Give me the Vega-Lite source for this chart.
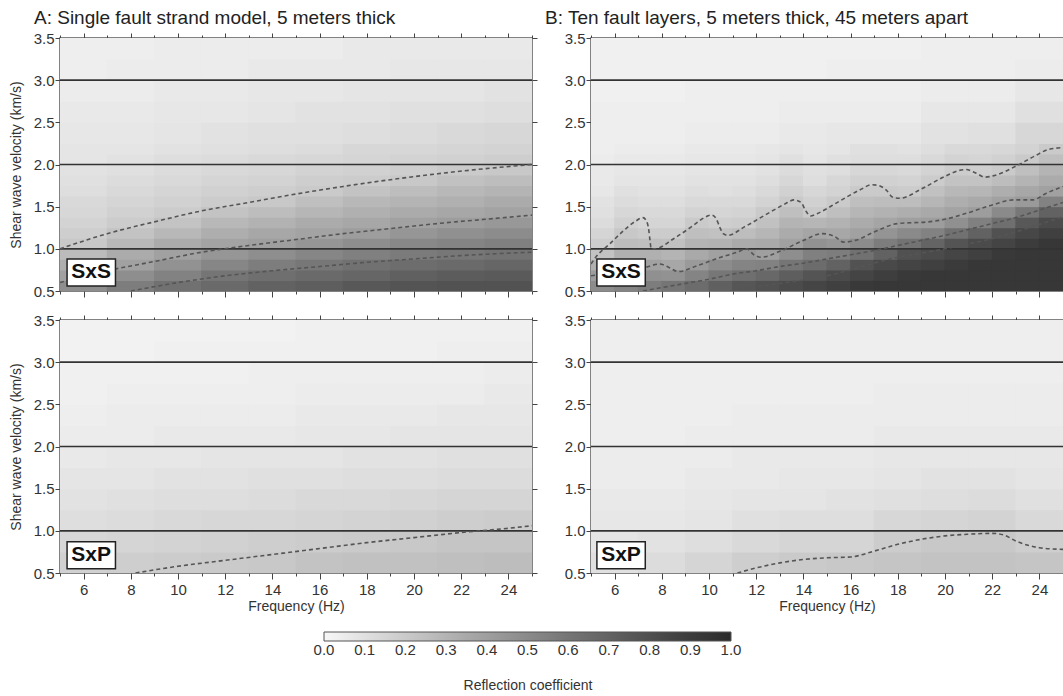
{
"$schema":"https://vega.github.io/schema/vega-lite/v6.json",
"autosize":{"type":"pad"},
"padding":{"left":8,"top":8,"right":0,"bottom":0},
"background":"white",
"config":{
 "font":"Liberation Sans",
 "view":{"stroke":"#5a5a5a","strokeWidth":1.5},
 "axis":{"grid":false,"domain":false,"labelFont":"Liberation Sans","labelFontSize":15,"labelColor":"#333","tickColor":"#444","tickWidth":1,"titleFont":"Liberation Sans","titleFontSize":14,"titleFontWeight":"normal","titleColor":"#333"},
 "title":{"font":"Liberation Sans","fontSize":19,"fontWeight":"normal","color":"#222","anchor":"start","frame":"group"},
 "legend":{"labelFont":"Liberation Sans","titleFont":"Liberation Sans"}
},
"datasets":{
"aS":[
{"f":6,"v":0.5625,"r":0.48},{"f":6,"v":0.6875,"r":0.39},{"f":6,"v":0.8125,"r":0.33},{"f":6,"v":0.9375,"r":0.27},{"f":6,"v":1.0625,"r":0.21},{"f":6,"v":1.1875,"r":0.18},{"f":6,"v":1.3125,"r":0.16},{"f":6,"v":1.4375,"r":0.14},{"f":6,"v":1.5625,"r":0.13},{"f":6,"v":1.6875,"r":0.11},{"f":6,"v":1.8125,"r":0.10},{"f":6,"v":1.9375,"r":0.09},{"f":6,"v":2.0625,"r":0.08},{"f":6,"v":2.1875,"r":0.08},
{"f":8,"v":0.5625,"r":0.56},{"f":8,"v":0.6875,"r":0.48},{"f":8,"v":0.8125,"r":0.39},{"f":8,"v":0.9375,"r":0.34},{"f":8,"v":1.0625,"r":0.28},{"f":8,"v":1.1875,"r":0.23},{"f":8,"v":1.3125,"r":0.19},{"f":8,"v":1.4375,"r":0.17},{"f":8,"v":1.5625,"r":0.15},{"f":8,"v":1.6875,"r":0.13},{"f":8,"v":1.8125,"r":0.12},{"f":8,"v":1.9375,"r":0.10},{"f":8,"v":2.0625,"r":0.09},{"f":8,"v":2.1875,"r":0.08},
{"f":10,"v":0.5625,"r":0.62},{"f":10,"v":0.6875,"r":0.54},{"f":10,"v":0.8125,"r":0.46},{"f":10,"v":0.9375,"r":0.39},{"f":10,"v":1.0625,"r":0.34},{"f":10,"v":1.1875,"r":0.28},{"f":10,"v":1.3125,"r":0.23},{"f":10,"v":1.4375,"r":0.19},{"f":10,"v":1.5625,"r":0.17},{"f":10,"v":1.6875,"r":0.15},{"f":10,"v":1.8125,"r":0.13},{"f":10,"v":1.9375,"r":0.12},{"f":10,"v":2.0625,"r":0.11},{"f":10,"v":2.1875,"r":0.09},
{"f":12,"v":0.5625,"r":0.66},{"f":12,"v":0.6875,"r":0.60},{"f":12,"v":0.8125,"r":0.52},{"f":12,"v":0.9375,"r":0.44},{"f":12,"v":1.0625,"r":0.38},{"f":12,"v":1.1875,"r":0.33},{"f":12,"v":1.3125,"r":0.28},{"f":12,"v":1.4375,"r":0.23},{"f":12,"v":1.5625,"r":0.19},{"f":12,"v":1.6875,"r":0.17},{"f":12,"v":1.8125,"r":0.15},{"f":12,"v":1.9375,"r":0.13},{"f":12,"v":2.0625,"r":0.12},{"f":12,"v":2.1875,"r":0.10},
{"f":14,"v":0.5625,"r":0.70},{"f":14,"v":0.6875,"r":0.63},{"f":14,"v":0.8125,"r":0.56},{"f":14,"v":0.9375,"r":0.48},{"f":14,"v":1.0625,"r":0.40},{"f":14,"v":1.1875,"r":0.36},{"f":14,"v":1.3125,"r":0.31},{"f":14,"v":1.4375,"r":0.26},{"f":14,"v":1.5625,"r":0.21},{"f":14,"v":1.6875,"r":0.18},{"f":14,"v":1.8125,"r":0.16},{"f":14,"v":1.9375,"r":0.14},{"f":14,"v":2.0625,"r":0.13},{"f":14,"v":2.1875,"r":0.11},
{"f":16,"v":0.5625,"r":0.72},{"f":16,"v":0.6875,"r":0.66},{"f":16,"v":0.8125,"r":0.59},{"f":16,"v":0.9375,"r":0.52},{"f":16,"v":1.0625,"r":0.44},{"f":16,"v":1.1875,"r":0.38},{"f":16,"v":1.3125,"r":0.34},{"f":16,"v":1.4375,"r":0.29},{"f":16,"v":1.5625,"r":0.25},{"f":16,"v":1.6875,"r":0.20},{"f":16,"v":1.8125,"r":0.18},{"f":16,"v":1.9375,"r":0.16},{"f":16,"v":2.0625,"r":0.14},{"f":16,"v":2.1875,"r":0.12},
{"f":18,"v":0.5625,"r":0.75},{"f":18,"v":0.6875,"r":0.68},{"f":18,"v":0.8125,"r":0.62},{"f":18,"v":0.9375,"r":0.55},{"f":18,"v":1.0625,"r":0.48},{"f":18,"v":1.1875,"r":0.41},{"f":18,"v":1.3125,"r":0.36},{"f":18,"v":1.4375,"r":0.32},{"f":18,"v":1.5625,"r":0.28},{"f":18,"v":1.6875,"r":0.23},{"f":18,"v":1.8125,"r":0.19},{"f":18,"v":1.9375,"r":0.17},{"f":18,"v":2.0625,"r":0.15},{"f":18,"v":2.1875,"r":0.14},
{"f":20,"v":0.5625,"r":0.77},{"f":20,"v":0.6875,"r":0.71},{"f":20,"v":0.8125,"r":0.64},{"f":20,"v":0.9375,"r":0.57},{"f":20,"v":1.0625,"r":0.51},{"f":20,"v":1.1875,"r":0.44},{"f":20,"v":1.3125,"r":0.39},{"f":20,"v":1.4375,"r":0.34},{"f":20,"v":1.5625,"r":0.30},{"f":20,"v":1.6875,"r":0.26},{"f":20,"v":1.8125,"r":0.21},{"f":20,"v":1.9375,"r":0.18},{"f":20,"v":2.0625,"r":0.16},{"f":20,"v":2.1875,"r":0.14},
{"f":22,"v":0.5625,"r":0.78},{"f":22,"v":0.6875,"r":0.73},{"f":22,"v":0.8125,"r":0.66},{"f":22,"v":0.9375,"r":0.59},{"f":22,"v":1.0625,"r":0.53},{"f":22,"v":1.1875,"r":0.47},{"f":22,"v":1.3125,"r":0.41},{"f":22,"v":1.4375,"r":0.36},{"f":22,"v":1.5625,"r":0.32},{"f":22,"v":1.6875,"r":0.28},{"f":22,"v":1.8125,"r":0.24},{"f":22,"v":1.9375,"r":0.20},{"f":22,"v":2.0625,"r":0.17},{"f":22,"v":2.1875,"r":0.15},
{"f":24,"v":0.5625,"r":0.78},{"f":24,"v":0.6875,"r":0.74},{"f":24,"v":0.8125,"r":0.68},{"f":24,"v":0.9375,"r":0.61},{"f":24,"v":1.0625,"r":0.55},{"f":24,"v":1.1875,"r":0.49},{"f":24,"v":1.3125,"r":0.43},{"f":24,"v":1.4375,"r":0.38},{"f":24,"v":1.5625,"r":0.34},{"f":24,"v":1.6875,"r":0.30},{"f":24,"v":1.8125,"r":0.26},{"f":24,"v":1.9375,"r":0.21},{"f":24,"v":2.0625,"r":0.18},{"f":24,"v":2.1875,"r":0.16}
],
"aSu":[
{"f":6,"v":2.375,"r":0.07},{"f":6,"v":2.625,"r":0.06},{"f":6,"v":2.875,"r":0.05},{"f":6,"v":3.125,"r":0.04},{"f":6,"v":3.375,"r":0.04},
{"f":8,"v":2.375,"r":0.07},{"f":8,"v":2.625,"r":0.06},{"f":8,"v":2.875,"r":0.05},{"f":8,"v":3.125,"r":0.05},{"f":8,"v":3.375,"r":0.04},
{"f":10,"v":2.375,"r":0.08},{"f":10,"v":2.625,"r":0.07},{"f":10,"v":2.875,"r":0.06},{"f":10,"v":3.125,"r":0.05},{"f":10,"v":3.375,"r":0.05},
{"f":12,"v":2.375,"r":0.09},{"f":12,"v":2.625,"r":0.07},{"f":12,"v":2.875,"r":0.06},{"f":12,"v":3.125,"r":0.05},{"f":12,"v":3.375,"r":0.05},
{"f":14,"v":2.375,"r":0.10},{"f":14,"v":2.625,"r":0.08},{"f":14,"v":2.875,"r":0.07},{"f":14,"v":3.125,"r":0.06},{"f":14,"v":3.375,"r":0.05},
{"f":16,"v":2.375,"r":0.10},{"f":16,"v":2.625,"r":0.09},{"f":16,"v":2.875,"r":0.07},{"f":16,"v":3.125,"r":0.06},{"f":16,"v":3.375,"r":0.05},
{"f":18,"v":2.375,"r":0.11},{"f":18,"v":2.625,"r":0.09},{"f":18,"v":2.875,"r":0.08},{"f":18,"v":3.125,"r":0.06},{"f":18,"v":3.375,"r":0.06},
{"f":20,"v":2.375,"r":0.12},{"f":20,"v":2.625,"r":0.10},{"f":20,"v":2.875,"r":0.08},{"f":20,"v":3.125,"r":0.07},{"f":20,"v":3.375,"r":0.06},
{"f":22,"v":2.375,"r":0.13},{"f":22,"v":2.625,"r":0.10},{"f":22,"v":2.875,"r":0.08},{"f":22,"v":3.125,"r":0.07},{"f":22,"v":3.375,"r":0.06},
{"f":24,"v":2.375,"r":0.14},{"f":24,"v":2.625,"r":0.11},{"f":24,"v":2.875,"r":0.09},{"f":24,"v":3.125,"r":0.07},{"f":24,"v":3.375,"r":0.06}
],
"aP":[
{"f":6,"v":0.625,"r":0.17},{"f":6,"v":0.875,"r":0.14},{"f":6,"v":1.125,"r":0.11},{"f":6,"v":1.375,"r":0.09},{"f":6,"v":1.625,"r":0.08},{"f":6,"v":1.875,"r":0.06},{"f":6,"v":2.125,"r":0.05},{"f":6,"v":2.375,"r":0.04},{"f":6,"v":2.625,"r":0.03},{"f":6,"v":2.875,"r":0.03},{"f":6,"v":3.125,"r":0.02},{"f":6,"v":3.375,"r":0.02},
{"f":8,"v":0.625,"r":0.18},{"f":8,"v":0.875,"r":0.15},{"f":8,"v":1.125,"r":0.12},{"f":8,"v":1.375,"r":0.10},{"f":8,"v":1.625,"r":0.08},{"f":8,"v":1.875,"r":0.07},{"f":8,"v":2.125,"r":0.05},{"f":8,"v":2.375,"r":0.05},{"f":8,"v":2.625,"r":0.04},{"f":8,"v":2.875,"r":0.03},{"f":8,"v":3.125,"r":0.02},{"f":8,"v":3.375,"r":0.02},
{"f":10,"v":0.625,"r":0.19},{"f":10,"v":0.875,"r":0.16},{"f":10,"v":1.125,"r":0.13},{"f":10,"v":1.375,"r":0.11},{"f":10,"v":1.625,"r":0.09},{"f":10,"v":1.875,"r":0.07},{"f":10,"v":2.125,"r":0.06},{"f":10,"v":2.375,"r":0.05},{"f":10,"v":2.625,"r":0.04},{"f":10,"v":2.875,"r":0.03},{"f":10,"v":3.125,"r":0.03},{"f":10,"v":3.375,"r":0.02},
{"f":12,"v":0.625,"r":0.20},{"f":12,"v":0.875,"r":0.17},{"f":12,"v":1.125,"r":0.14},{"f":12,"v":1.375,"r":0.11},{"f":12,"v":1.625,"r":0.09},{"f":12,"v":1.875,"r":0.08},{"f":12,"v":2.125,"r":0.06},{"f":12,"v":2.375,"r":0.05},{"f":12,"v":2.625,"r":0.04},{"f":12,"v":2.875,"r":0.03},{"f":12,"v":3.125,"r":0.03},{"f":12,"v":3.375,"r":0.02},
{"f":14,"v":0.625,"r":0.21},{"f":14,"v":0.875,"r":0.18},{"f":14,"v":1.125,"r":0.14},{"f":14,"v":1.375,"r":0.12},{"f":14,"v":1.625,"r":0.10},{"f":14,"v":1.875,"r":0.08},{"f":14,"v":2.125,"r":0.06},{"f":14,"v":2.375,"r":0.05},{"f":14,"v":2.625,"r":0.04},{"f":14,"v":2.875,"r":0.04},{"f":14,"v":3.125,"r":0.03},{"f":14,"v":3.375,"r":0.02},
{"f":16,"v":0.625,"r":0.23},{"f":16,"v":0.875,"r":0.19},{"f":16,"v":1.125,"r":0.15},{"f":16,"v":1.375,"r":0.13},{"f":16,"v":1.625,"r":0.10},{"f":16,"v":1.875,"r":0.08},{"f":16,"v":2.125,"r":0.07},{"f":16,"v":2.375,"r":0.06},{"f":16,"v":2.625,"r":0.05},{"f":16,"v":2.875,"r":0.04},{"f":16,"v":3.125,"r":0.03},{"f":16,"v":3.375,"r":0.03},
{"f":18,"v":0.625,"r":0.24},{"f":18,"v":0.875,"r":0.20},{"f":18,"v":1.125,"r":0.16},{"f":18,"v":1.375,"r":0.13},{"f":18,"v":1.625,"r":0.11},{"f":18,"v":1.875,"r":0.09},{"f":18,"v":2.125,"r":0.07},{"f":18,"v":2.375,"r":0.06},{"f":18,"v":2.625,"r":0.05},{"f":18,"v":2.875,"r":0.04},{"f":18,"v":3.125,"r":0.03},{"f":18,"v":3.375,"r":0.03},
{"f":20,"v":0.625,"r":0.24},{"f":20,"v":0.875,"r":0.21},{"f":20,"v":1.125,"r":0.17},{"f":20,"v":1.375,"r":0.14},{"f":20,"v":1.625,"r":0.11},{"f":20,"v":1.875,"r":0.09},{"f":20,"v":2.125,"r":0.08},{"f":20,"v":2.375,"r":0.06},{"f":20,"v":2.625,"r":0.05},{"f":20,"v":2.875,"r":0.04},{"f":20,"v":3.125,"r":0.03},{"f":20,"v":3.375,"r":0.03},
{"f":22,"v":0.625,"r":0.25},{"f":22,"v":0.875,"r":0.22},{"f":22,"v":1.125,"r":0.18},{"f":22,"v":1.375,"r":0.15},{"f":22,"v":1.625,"r":0.12},{"f":22,"v":1.875,"r":0.10},{"f":22,"v":2.125,"r":0.08},{"f":22,"v":2.375,"r":0.07},{"f":22,"v":2.625,"r":0.05},{"f":22,"v":2.875,"r":0.04},{"f":22,"v":3.125,"r":0.04},{"f":22,"v":3.375,"r":0.03},
{"f":24,"v":0.625,"r":0.26},{"f":24,"v":0.875,"r":0.22},{"f":24,"v":1.125,"r":0.19},{"f":24,"v":1.375,"r":0.15},{"f":24,"v":1.625,"r":0.12},{"f":24,"v":1.875,"r":0.10},{"f":24,"v":2.125,"r":0.08},{"f":24,"v":2.375,"r":0.07},{"f":24,"v":2.625,"r":0.06},{"f":24,"v":2.875,"r":0.05},{"f":24,"v":3.125,"r":0.04},{"f":24,"v":3.375,"r":0.03}
],
"bP":[
{"f":6,"v":0.625,"r":0.10},{"f":6,"v":0.875,"r":0.08},{"f":6,"v":1.125,"r":0.07},{"f":6,"v":1.375,"r":0.06},{"f":6,"v":1.625,"r":0.05},{"f":6,"v":1.875,"r":0.05},{"f":6,"v":2.125,"r":0.04},{"f":6,"v":2.375,"r":0.04},{"f":6,"v":2.625,"r":0.04},{"f":6,"v":2.875,"r":0.04},{"f":6,"v":3.125,"r":0.04},{"f":6,"v":3.375,"r":0.04},
{"f":8,"v":0.625,"r":0.12},{"f":8,"v":0.875,"r":0.09},{"f":8,"v":1.125,"r":0.07},{"f":8,"v":1.375,"r":0.06},{"f":8,"v":1.625,"r":0.05},{"f":8,"v":1.875,"r":0.05},{"f":8,"v":2.125,"r":0.04},{"f":8,"v":2.375,"r":0.04},{"f":8,"v":2.625,"r":0.04},{"f":8,"v":2.875,"r":0.04},{"f":8,"v":3.125,"r":0.04},{"f":8,"v":3.375,"r":0.04},
{"f":10,"v":0.625,"r":0.15},{"f":10,"v":0.875,"r":0.11},{"f":10,"v":1.125,"r":0.08},{"f":10,"v":1.375,"r":0.07},{"f":10,"v":1.625,"r":0.06},{"f":10,"v":1.875,"r":0.05},{"f":10,"v":2.125,"r":0.05},{"f":10,"v":2.375,"r":0.04},{"f":10,"v":2.625,"r":0.04},{"f":10,"v":2.875,"r":0.04},{"f":10,"v":3.125,"r":0.04},{"f":10,"v":3.375,"r":0.04},
{"f":12,"v":0.625,"r":0.18},{"f":12,"v":0.875,"r":0.13},{"f":12,"v":1.125,"r":0.10},{"f":12,"v":1.375,"r":0.08},{"f":12,"v":1.625,"r":0.06},{"f":12,"v":1.875,"r":0.06},{"f":12,"v":2.125,"r":0.05},{"f":12,"v":2.375,"r":0.05},{"f":12,"v":2.625,"r":0.04},{"f":12,"v":2.875,"r":0.04},{"f":12,"v":3.125,"r":0.04},{"f":12,"v":3.375,"r":0.04},
{"f":14,"v":0.625,"r":0.20},{"f":14,"v":0.875,"r":0.15},{"f":14,"v":1.125,"r":0.11},{"f":14,"v":1.375,"r":0.08},{"f":14,"v":1.625,"r":0.07},{"f":14,"v":1.875,"r":0.06},{"f":14,"v":2.125,"r":0.05},{"f":14,"v":2.375,"r":0.05},{"f":14,"v":2.625,"r":0.04},{"f":14,"v":2.875,"r":0.04},{"f":14,"v":3.125,"r":0.04},{"f":14,"v":3.375,"r":0.04},
{"f":16,"v":0.625,"r":0.21},{"f":16,"v":0.875,"r":0.15},{"f":16,"v":1.125,"r":0.11},{"f":16,"v":1.375,"r":0.09},{"f":16,"v":1.625,"r":0.07},{"f":16,"v":1.875,"r":0.06},{"f":16,"v":2.125,"r":0.05},{"f":16,"v":2.375,"r":0.05},{"f":16,"v":2.625,"r":0.04},{"f":16,"v":2.875,"r":0.04},{"f":16,"v":3.125,"r":0.04},{"f":16,"v":3.375,"r":0.04},
{"f":18,"v":0.625,"r":0.22},{"f":18,"v":0.875,"r":0.19},{"f":18,"v":1.125,"r":0.14},{"f":18,"v":1.375,"r":0.10},{"f":18,"v":1.625,"r":0.08},{"f":18,"v":1.875,"r":0.07},{"f":18,"v":2.125,"r":0.06},{"f":18,"v":2.375,"r":0.05},{"f":18,"v":2.625,"r":0.05},{"f":18,"v":2.875,"r":0.04},{"f":18,"v":3.125,"r":0.04},{"f":18,"v":3.375,"r":0.04},
{"f":20,"v":0.625,"r":0.23},{"f":20,"v":0.875,"r":0.21},{"f":20,"v":1.125,"r":0.15},{"f":20,"v":1.375,"r":0.11},{"f":20,"v":1.625,"r":0.09},{"f":20,"v":1.875,"r":0.07},{"f":20,"v":2.125,"r":0.06},{"f":20,"v":2.375,"r":0.05},{"f":20,"v":2.625,"r":0.05},{"f":20,"v":2.875,"r":0.04},{"f":20,"v":3.125,"r":0.04},{"f":20,"v":3.375,"r":0.04},
{"f":22,"v":0.625,"r":0.23},{"f":22,"v":0.875,"r":0.21},{"f":22,"v":1.125,"r":0.16},{"f":22,"v":1.375,"r":0.12},{"f":22,"v":1.625,"r":0.09},{"f":22,"v":1.875,"r":0.07},{"f":22,"v":2.125,"r":0.06},{"f":22,"v":2.375,"r":0.05},{"f":22,"v":2.625,"r":0.05},{"f":22,"v":2.875,"r":0.04},{"f":22,"v":3.125,"r":0.04},{"f":22,"v":3.375,"r":0.04},
{"f":24,"v":0.625,"r":0.22},{"f":24,"v":0.875,"r":0.18},{"f":24,"v":1.125,"r":0.13},{"f":24,"v":1.375,"r":0.10},{"f":24,"v":1.625,"r":0.08},{"f":24,"v":1.875,"r":0.07},{"f":24,"v":2.125,"r":0.06},{"f":24,"v":2.375,"r":0.05},{"f":24,"v":2.625,"r":0.05},{"f":24,"v":2.875,"r":0.04},{"f":24,"v":3.125,"r":0.04},{"f":24,"v":3.375,"r":0.04}
],
"bS":[
{"f":5.5,"v":0.5625,"r":0.49},{"f":5.5,"v":0.6875,"r":0.41},{"f":5.5,"v":0.8125,"r":0.32},{"f":5.5,"v":0.9375,"r":0.23},{"f":5.5,"v":1.0625,"r":0.18},{"f":5.5,"v":1.1875,"r":0.15},{"f":5.5,"v":1.3125,"r":0.12},{"f":5.5,"v":1.4375,"r":0.10},{"f":5.5,"v":1.5625,"r":0.09},{"f":5.5,"v":1.6875,"r":0.07},{"f":5.5,"v":1.8125,"r":0.06},{"f":5.5,"v":1.9375,"r":0.06},{"f":5.5,"v":2.0625,"r":0.05},{"f":5.5,"v":2.1875,"r":0.04},
{"f":6.5,"v":0.5625,"r":0.53},{"f":6.5,"v":0.6875,"r":0.44},{"f":6.5,"v":0.8125,"r":0.37},{"f":6.5,"v":0.9375,"r":0.32},{"f":6.5,"v":1.0625,"r":0.26},{"f":6.5,"v":1.1875,"r":0.21},{"f":6.5,"v":1.3125,"r":0.17},{"f":6.5,"v":1.4375,"r":0.14},{"f":6.5,"v":1.5625,"r":0.12},{"f":6.5,"v":1.6875,"r":0.10},{"f":6.5,"v":1.8125,"r":0.08},{"f":6.5,"v":1.9375,"r":0.07},{"f":6.5,"v":2.0625,"r":0.06},{"f":6.5,"v":2.1875,"r":0.05},
{"f":7.5,"v":0.5625,"r":0.56},{"f":7.5,"v":0.6875,"r":0.47},{"f":7.5,"v":0.8125,"r":0.39},{"f":7.5,"v":0.9375,"r":0.32},{"f":7.5,"v":1.0625,"r":0.25},{"f":7.5,"v":1.1875,"r":0.19},{"f":7.5,"v":1.3125,"r":0.15},{"f":7.5,"v":1.4375,"r":0.13},{"f":7.5,"v":1.5625,"r":0.11},{"f":7.5,"v":1.6875,"r":0.09},{"f":7.5,"v":1.8125,"r":0.08},{"f":7.5,"v":1.9375,"r":0.07},{"f":7.5,"v":2.0625,"r":0.06},{"f":7.5,"v":2.1875,"r":0.05},
{"f":8.5,"v":0.5625,"r":0.60},{"f":8.5,"v":0.6875,"r":0.46},{"f":8.5,"v":0.8125,"r":0.36},{"f":8.5,"v":0.9375,"r":0.30},{"f":8.5,"v":1.0625,"r":0.24},{"f":8.5,"v":1.1875,"r":0.19},{"f":8.5,"v":1.3125,"r":0.15},{"f":8.5,"v":1.4375,"r":0.13},{"f":8.5,"v":1.5625,"r":0.11},{"f":8.5,"v":1.6875,"r":0.09},{"f":8.5,"v":1.8125,"r":0.08},{"f":8.5,"v":1.9375,"r":0.07},{"f":8.5,"v":2.0625,"r":0.06},{"f":8.5,"v":2.1875,"r":0.05},
{"f":9.5,"v":0.5625,"r":0.65},{"f":9.5,"v":0.6875,"r":0.53},{"f":9.5,"v":0.8125,"r":0.42},{"f":9.5,"v":0.9375,"r":0.35},{"f":9.5,"v":1.0625,"r":0.30},{"f":9.5,"v":1.1875,"r":0.25},{"f":9.5,"v":1.3125,"r":0.20},{"f":9.5,"v":1.4375,"r":0.16},{"f":9.5,"v":1.5625,"r":0.13},{"f":9.5,"v":1.6875,"r":0.11},{"f":9.5,"v":1.8125,"r":0.09},{"f":9.5,"v":1.9375,"r":0.08},{"f":9.5,"v":2.0625,"r":0.07},{"f":9.5,"v":2.1875,"r":0.06},
{"f":10.5,"v":0.5625,"r":0.71},{"f":10.5,"v":0.6875,"r":0.59},{"f":10.5,"v":0.8125,"r":0.49},{"f":10.5,"v":0.9375,"r":0.39},{"f":10.5,"v":1.0625,"r":0.31},{"f":10.5,"v":1.1875,"r":0.24},{"f":10.5,"v":1.3125,"r":0.18},{"f":10.5,"v":1.4375,"r":0.15},{"f":10.5,"v":1.5625,"r":0.13},{"f":10.5,"v":1.6875,"r":0.10},{"f":10.5,"v":1.8125,"r":0.09},{"f":10.5,"v":1.9375,"r":0.08},{"f":10.5,"v":2.0625,"r":0.07},{"f":10.5,"v":2.1875,"r":0.06},
{"f":11.5,"v":0.5625,"r":0.76},{"f":11.5,"v":0.6875,"r":0.63},{"f":11.5,"v":0.8125,"r":0.53},{"f":11.5,"v":0.9375,"r":0.43},{"f":11.5,"v":1.0625,"r":0.34},{"f":11.5,"v":1.1875,"r":0.26},{"f":11.5,"v":1.3125,"r":0.19},{"f":11.5,"v":1.4375,"r":0.16},{"f":11.5,"v":1.5625,"r":0.13},{"f":11.5,"v":1.6875,"r":0.11},{"f":11.5,"v":1.8125,"r":0.09},{"f":11.5,"v":1.9375,"r":0.08},{"f":11.5,"v":2.0625,"r":0.07},{"f":11.5,"v":2.1875,"r":0.06},
{"f":12.5,"v":0.5625,"r":0.79},{"f":12.5,"v":0.6875,"r":0.67},{"f":12.5,"v":0.8125,"r":0.54},{"f":12.5,"v":0.9375,"r":0.40},{"f":12.5,"v":1.0625,"r":0.35},{"f":12.5,"v":1.1875,"r":0.29},{"f":12.5,"v":1.3125,"r":0.24},{"f":12.5,"v":1.4375,"r":0.20},{"f":12.5,"v":1.5625,"r":0.16},{"f":12.5,"v":1.6875,"r":0.13},{"f":12.5,"v":1.8125,"r":0.11},{"f":12.5,"v":1.9375,"r":0.09},{"f":12.5,"v":2.0625,"r":0.08},{"f":12.5,"v":2.1875,"r":0.07},
{"f":13.5,"v":0.5625,"r":0.82},{"f":13.5,"v":0.6875,"r":0.72},{"f":13.5,"v":0.8125,"r":0.60},{"f":13.5,"v":0.9375,"r":0.48},{"f":13.5,"v":1.0625,"r":0.39},{"f":13.5,"v":1.1875,"r":0.34},{"f":13.5,"v":1.3125,"r":0.30},{"f":13.5,"v":1.4375,"r":0.25},{"f":13.5,"v":1.5625,"r":0.20},{"f":13.5,"v":1.6875,"r":0.17},{"f":13.5,"v":1.8125,"r":0.14},{"f":13.5,"v":1.9375,"r":0.12},{"f":13.5,"v":2.0625,"r":0.10},{"f":13.5,"v":2.1875,"r":0.08},
{"f":14.5,"v":0.5625,"r":0.85},{"f":14.5,"v":0.6875,"r":0.77},{"f":14.5,"v":0.8125,"r":0.65},{"f":14.5,"v":0.9375,"r":0.55},{"f":14.5,"v":1.0625,"r":0.46},{"f":14.5,"v":1.1875,"r":0.37},{"f":14.5,"v":1.3125,"r":0.29},{"f":14.5,"v":1.4375,"r":0.20},{"f":14.5,"v":1.5625,"r":0.17},{"f":14.5,"v":1.6875,"r":0.14},{"f":14.5,"v":1.8125,"r":0.11},{"f":14.5,"v":1.9375,"r":0.10},{"f":14.5,"v":2.0625,"r":0.08},{"f":14.5,"v":2.1875,"r":0.07},
{"f":15.5,"v":0.5625,"r":0.88},{"f":15.5,"v":0.6875,"r":0.82},{"f":15.5,"v":0.8125,"r":0.70},{"f":15.5,"v":0.9375,"r":0.56},{"f":15.5,"v":1.0625,"r":0.44},{"f":15.5,"v":1.1875,"r":0.36},{"f":15.5,"v":1.3125,"r":0.31},{"f":15.5,"v":1.4375,"r":0.25},{"f":15.5,"v":1.5625,"r":0.20},{"f":15.5,"v":1.6875,"r":0.16},{"f":15.5,"v":1.8125,"r":0.14},{"f":15.5,"v":1.9375,"r":0.11},{"f":15.5,"v":2.0625,"r":0.10},{"f":15.5,"v":2.1875,"r":0.08},
{"f":16.5,"v":0.5625,"r":0.92},{"f":16.5,"v":0.6875,"r":0.86},{"f":16.5,"v":0.8125,"r":0.78},{"f":16.5,"v":0.9375,"r":0.62},{"f":16.5,"v":1.0625,"r":0.49},{"f":16.5,"v":1.1875,"r":0.39},{"f":16.5,"v":1.3125,"r":0.34},{"f":16.5,"v":1.4375,"r":0.29},{"f":16.5,"v":1.5625,"r":0.25},{"f":16.5,"v":1.6875,"r":0.20},{"f":16.5,"v":1.8125,"r":0.17},{"f":16.5,"v":1.9375,"r":0.14},{"f":16.5,"v":2.0625,"r":0.11},{"f":16.5,"v":2.1875,"r":0.10},
{"f":17.5,"v":0.5625,"r":0.93},{"f":17.5,"v":0.6875,"r":0.89},{"f":17.5,"v":0.8125,"r":0.83},{"f":17.5,"v":0.9375,"r":0.70},{"f":17.5,"v":1.0625,"r":0.56},{"f":17.5,"v":1.1875,"r":0.45},{"f":17.5,"v":1.3125,"r":0.37},{"f":17.5,"v":1.4375,"r":0.31},{"f":17.5,"v":1.5625,"r":0.26},{"f":17.5,"v":1.6875,"r":0.20},{"f":17.5,"v":1.8125,"r":0.17},{"f":17.5,"v":1.9375,"r":0.14},{"f":17.5,"v":2.0625,"r":0.11},{"f":17.5,"v":2.1875,"r":0.10},
{"f":18.5,"v":0.5625,"r":0.93},{"f":18.5,"v":0.6875,"r":0.92},{"f":18.5,"v":0.8125,"r":0.86},{"f":18.5,"v":0.9375,"r":0.79},{"f":18.5,"v":1.0625,"r":0.61},{"f":18.5,"v":1.1875,"r":0.50},{"f":18.5,"v":1.3125,"r":0.40},{"f":18.5,"v":1.4375,"r":0.33},{"f":18.5,"v":1.5625,"r":0.26},{"f":18.5,"v":1.6875,"r":0.19},{"f":18.5,"v":1.8125,"r":0.16},{"f":18.5,"v":1.9375,"r":0.13},{"f":18.5,"v":2.0625,"r":0.11},{"f":18.5,"v":2.1875,"r":0.09},
{"f":19.5,"v":0.5625,"r":0.93},{"f":19.5,"v":0.6875,"r":0.93},{"f":19.5,"v":0.8125,"r":0.88},{"f":19.5,"v":0.9375,"r":0.82},{"f":19.5,"v":1.0625,"r":0.69},{"f":19.5,"v":1.1875,"r":0.54},{"f":19.5,"v":1.3125,"r":0.41},{"f":19.5,"v":1.4375,"r":0.35},{"f":19.5,"v":1.5625,"r":0.29},{"f":19.5,"v":1.6875,"r":0.24},{"f":19.5,"v":1.8125,"r":0.19},{"f":19.5,"v":1.9375,"r":0.16},{"f":19.5,"v":2.0625,"r":0.13},{"f":19.5,"v":2.1875,"r":0.11},
{"f":20.5,"v":0.5625,"r":0.93},{"f":20.5,"v":0.6875,"r":0.93},{"f":20.5,"v":0.8125,"r":0.91},{"f":20.5,"v":0.9375,"r":0.85},{"f":20.5,"v":1.0625,"r":0.77},{"f":20.5,"v":1.1875,"r":0.62},{"f":20.5,"v":1.3125,"r":0.47},{"f":20.5,"v":1.4375,"r":0.38},{"f":20.5,"v":1.5625,"r":0.33},{"f":20.5,"v":1.6875,"r":0.28},{"f":20.5,"v":1.8125,"r":0.23},{"f":20.5,"v":1.9375,"r":0.19},{"f":20.5,"v":2.0625,"r":0.16},{"f":20.5,"v":2.1875,"r":0.13},
{"f":21.5,"v":0.5625,"r":0.93},{"f":21.5,"v":0.6875,"r":0.93},{"f":21.5,"v":0.8125,"r":0.93},{"f":21.5,"v":0.9375,"r":0.88},{"f":21.5,"v":1.0625,"r":0.82},{"f":21.5,"v":1.1875,"r":0.70},{"f":21.5,"v":1.3125,"r":0.55},{"f":21.5,"v":1.4375,"r":0.41},{"f":21.5,"v":1.5625,"r":0.35},{"f":21.5,"v":1.6875,"r":0.29},{"f":21.5,"v":1.8125,"r":0.23},{"f":21.5,"v":1.9375,"r":0.18},{"f":21.5,"v":2.0625,"r":0.15},{"f":21.5,"v":2.1875,"r":0.13},
{"f":22.5,"v":0.5625,"r":0.93},{"f":22.5,"v":0.6875,"r":0.93},{"f":22.5,"v":0.8125,"r":0.93},{"f":22.5,"v":0.9375,"r":0.92},{"f":22.5,"v":1.0625,"r":0.86},{"f":22.5,"v":1.1875,"r":0.79},{"f":22.5,"v":1.3125,"r":0.63},{"f":22.5,"v":1.4375,"r":0.50},{"f":22.5,"v":1.5625,"r":0.39},{"f":22.5,"v":1.6875,"r":0.33},{"f":22.5,"v":1.8125,"r":0.26},{"f":22.5,"v":1.9375,"r":0.20},{"f":22.5,"v":2.0625,"r":0.17},{"f":22.5,"v":2.1875,"r":0.14},
{"f":23.5,"v":0.5625,"r":0.93},{"f":23.5,"v":0.6875,"r":0.93},{"f":23.5,"v":0.8125,"r":0.93},{"f":23.5,"v":0.9375,"r":0.93},{"f":23.5,"v":1.0625,"r":0.90},{"f":23.5,"v":1.1875,"r":0.84},{"f":23.5,"v":1.3125,"r":0.75},{"f":23.5,"v":1.4375,"r":0.59},{"f":23.5,"v":1.5625,"r":0.42},{"f":23.5,"v":1.6875,"r":0.36},{"f":23.5,"v":1.8125,"r":0.30},{"f":23.5,"v":1.9375,"r":0.25},{"f":23.5,"v":2.0625,"r":0.20},{"f":23.5,"v":2.1875,"r":0.16},
{"f":24.5,"v":0.5625,"r":0.93},{"f":24.5,"v":0.6875,"r":0.93},{"f":24.5,"v":0.8125,"r":0.93},{"f":24.5,"v":0.9375,"r":0.93},{"f":24.5,"v":1.0625,"r":0.93},{"f":24.5,"v":1.1875,"r":0.88},{"f":24.5,"v":1.3125,"r":0.82},{"f":24.5,"v":1.4375,"r":0.70},{"f":24.5,"v":1.5625,"r":0.54},{"f":24.5,"v":1.6875,"r":0.39},{"f":24.5,"v":1.8125,"r":0.34},{"f":24.5,"v":1.9375,"r":0.30},{"f":24.5,"v":2.0625,"r":0.25},{"f":24.5,"v":2.1875,"r":0.20}
],
"bSu":[
{"f":6,"v":2.375,"r":0.04},{"f":6,"v":2.625,"r":0.04},{"f":6,"v":2.875,"r":0.03},{"f":6,"v":3.125,"r":0.03},{"f":6,"v":3.375,"r":0.03},
{"f":8,"v":2.375,"r":0.04},{"f":8,"v":2.625,"r":0.04},{"f":8,"v":2.875,"r":0.03},{"f":8,"v":3.125,"r":0.03},{"f":8,"v":3.375,"r":0.03},
{"f":10,"v":2.375,"r":0.05},{"f":10,"v":2.625,"r":0.04},{"f":10,"v":2.875,"r":0.04},{"f":10,"v":3.125,"r":0.03},{"f":10,"v":3.375,"r":0.03},
{"f":12,"v":2.375,"r":0.05},{"f":12,"v":2.625,"r":0.04},{"f":12,"v":2.875,"r":0.04},{"f":12,"v":3.125,"r":0.03},{"f":12,"v":3.375,"r":0.03},
{"f":14,"v":2.375,"r":0.06},{"f":14,"v":2.625,"r":0.05},{"f":14,"v":2.875,"r":0.04},{"f":14,"v":3.125,"r":0.03},{"f":14,"v":3.375,"r":0.03},
{"f":16,"v":2.375,"r":0.07},{"f":16,"v":2.625,"r":0.05},{"f":16,"v":2.875,"r":0.04},{"f":16,"v":3.125,"r":0.04},{"f":16,"v":3.375,"r":0.03},
{"f":18,"v":2.375,"r":0.07},{"f":18,"v":2.625,"r":0.05},{"f":18,"v":2.875,"r":0.04},{"f":18,"v":3.125,"r":0.04},{"f":18,"v":3.375,"r":0.03},
{"f":20,"v":2.375,"r":0.09},{"f":20,"v":2.625,"r":0.07},{"f":20,"v":2.875,"r":0.05},{"f":20,"v":3.125,"r":0.04},{"f":20,"v":3.375,"r":0.04},
{"f":22,"v":2.375,"r":0.10},{"f":22,"v":2.625,"r":0.07},{"f":22,"v":2.875,"r":0.05},{"f":22,"v":3.125,"r":0.04},{"f":22,"v":3.375,"r":0.04},
{"f":24,"v":2.375,"r":0.14},{"f":24,"v":2.625,"r":0.10},{"f":24,"v":2.875,"r":0.07},{"f":24,"v":3.125,"r":0.05},{"f":24,"v":3.375,"r":0.04}
],
"caS":[
{"c":1,"f":5,"v":1.0},{"c":1,"f":7,"v":1.18},{"c":1,"f":9,"v":1.32},{"c":1,"f":11,"v":1.45},{"c":1,"f":13,"v":1.55},{"c":1,"f":15,"v":1.65},{"c":1,"f":17,"v":1.74},{"c":1,"f":19,"v":1.82},{"c":1,"f":21,"v":1.89},{"c":1,"f":23,"v":1.95},{"c":1,"f":25,"v":2.0},
{"c":2,"f":5,"v":0.6},{"c":2,"f":7,"v":0.74},{"c":2,"f":9,"v":0.85},{"c":2,"f":11,"v":0.96},{"c":2,"f":13,"v":1.04},{"c":2,"f":15,"v":1.11},{"c":2,"f":17,"v":1.18},{"c":2,"f":19,"v":1.24},{"c":2,"f":21,"v":1.3},{"c":2,"f":23,"v":1.35},{"c":2,"f":25,"v":1.4},
{"c":3,"f":8,"v":0.5},{"c":3,"f":10,"v":0.6},{"c":3,"f":12,"v":0.68},{"c":3,"f":14,"v":0.74},{"c":3,"f":16,"v":0.79},{"c":3,"f":18,"v":0.84},{"c":3,"f":20,"v":0.88},{"c":3,"f":22,"v":0.92},{"c":3,"f":25,"v":0.96}
],
"caP":[
{"c":1,"f":8.2,"v":0.5},{"c":1,"f":10,"v":0.58},{"c":1,"f":12,"v":0.65},{"c":1,"f":14,"v":0.72},{"c":1,"f":16,"v":0.79},{"c":1,"f":18,"v":0.86},{"c":1,"f":20,"v":0.92},{"c":1,"f":22,"v":0.98},{"c":1,"f":24,"v":1.03},{"c":1,"f":25,"v":1.06}
],
"cbS":[
{"c":1,"f":5,"v":0.82},{"c":1,"f":5.2,"v":0.9},{"c":1,"f":5.8,"v":1.06},{"c":1,"f":6.4,"v":1.22},{"c":1,"f":6.9,"v":1.33},{"c":1,"f":7.2,"v":1.37},{"c":1,"f":7.35,"v":1.33},{"c":1,"f":7.45,"v":1.22},{"c":1,"f":7.5,"v":1.1},{"c":1,"f":7.55,"v":1.0},{"c":1,"f":7.7,"v":1.0},{"c":1,"f":8.5,"v":1.12},{"c":1,"f":9.3,"v":1.27},{"c":1,"f":9.8,"v":1.37},{"c":1,"f":10.1,"v":1.4},{"c":1,"f":10.3,"v":1.36},{"c":1,"f":10.45,"v":1.26},{"c":1,"f":10.6,"v":1.18},{"c":1,"f":10.8,"v":1.16},{"c":1,"f":11.5,"v":1.26},{"c":1,"f":12.5,"v":1.42},{"c":1,"f":13.2,"v":1.53},{"c":1,"f":13.6,"v":1.58},{"c":1,"f":13.9,"v":1.55},{"c":1,"f":14.1,"v":1.45},{"c":1,"f":14.3,"v":1.39},{"c":1,"f":14.6,"v":1.42},{"c":1,"f":15.5,"v":1.56},{"c":1,"f":16.4,"v":1.7},{"c":1,"f":16.9,"v":1.76},{"c":1,"f":17.2,"v":1.75},{"c":1,"f":17.5,"v":1.7},{"c":1,"f":17.8,"v":1.61},{"c":1,"f":18.1,"v":1.6},{"c":1,"f":19,"v":1.71},{"c":1,"f":20,"v":1.86},{"c":1,"f":20.6,"v":1.93},{"c":1,"f":20.9,"v":1.94},{"c":1,"f":21.3,"v":1.9},{"c":1,"f":21.7,"v":1.85},{"c":1,"f":22.1,"v":1.87},{"c":1,"f":23,"v":1.98},{"c":1,"f":23.8,"v":2.1},{"c":1,"f":24.4,"v":2.18},{"c":1,"f":25,"v":2.2},
{"c":2,"f":5,"v":0.68},{"c":2,"f":5.5,"v":0.7},{"c":2,"f":6.5,"v":0.74},{"c":2,"f":7.3,"v":0.78},{"c":2,"f":7.9,"v":0.82},{"c":2,"f":8.3,"v":0.78},{"c":2,"f":8.7,"v":0.73},{"c":2,"f":9.5,"v":0.8},{"c":2,"f":10.5,"v":0.9},{"c":2,"f":11.2,"v":0.96},{"c":2,"f":11.6,"v":1.0},{"c":2,"f":11.9,"v":0.93},{"c":2,"f":12.2,"v":0.9},{"c":2,"f":13,"v":0.97},{"c":2,"f":14,"v":1.1},{"c":2,"f":14.8,"v":1.18},{"c":2,"f":15.3,"v":1.15},{"c":2,"f":15.7,"v":1.08},{"c":2,"f":16.2,"v":1.1},{"c":2,"f":17,"v":1.2},{"c":2,"f":18,"v":1.3},{"c":2,"f":19.3,"v":1.32},{"c":2,"f":20,"v":1.35},{"c":2,"f":21,"v":1.43},{"c":2,"f":22,"v":1.52},{"c":2,"f":22.9,"v":1.58},{"c":2,"f":23.7,"v":1.58},{"c":2,"f":24.3,"v":1.66},{"c":2,"f":25,"v":1.74},
{"c":3,"f":7.2,"v":0.5},{"c":3,"f":8,"v":0.54},{"c":3,"f":9,"v":0.59},{"c":3,"f":10,"v":0.64},{"c":3,"f":11,"v":0.7},{"c":3,"f":12,"v":0.74},{"c":3,"f":13,"v":0.79},{"c":3,"f":14,"v":0.83},{"c":3,"f":15,"v":0.88},{"c":3,"f":16,"v":0.93},{"c":3,"f":17,"v":0.98},{"c":3,"f":18,"v":1.04},{"c":3,"f":19,"v":1.1},{"c":3,"f":20,"v":1.16},{"c":3,"f":21,"v":1.23},{"c":3,"f":22,"v":1.3},{"c":3,"f":23,"v":1.37},{"c":3,"f":24,"v":1.46},{"c":3,"f":25,"v":1.55},
{"c":4,"f":10.9,"v":0.5},{"c":4,"f":12,"v":0.55},{"c":4,"f":13,"v":0.59},{"c":4,"f":14,"v":0.63},{"c":4,"f":15,"v":0.68},{"c":4,"f":16,"v":0.75},{"c":4,"f":17,"v":0.83},{"c":4,"f":18,"v":0.9},{"c":4,"f":19,"v":0.95},{"c":4,"f":20,"v":1.0},{"c":4,"f":21,"v":1.06},{"c":4,"f":22,"v":1.12},{"c":4,"f":23,"v":1.2},{"c":4,"f":24,"v":1.29},{"c":4,"f":25,"v":1.38}
],
"cbP":[
{"c":1,"f":11.2,"v":0.5},{"c":1,"f":12,"v":0.56},{"c":1,"f":13,"v":0.62},{"c":1,"f":14,"v":0.66},{"c":1,"f":15,"v":0.68},{"c":1,"f":16,"v":0.69},{"c":1,"f":17,"v":0.76},{"c":1,"f":18,"v":0.84},{"c":1,"f":19,"v":0.9},{"c":1,"f":20,"v":0.94},{"c":1,"f":21,"v":0.96},{"c":1,"f":22,"v":0.97},{"c":1,"f":22.5,"v":0.95},{"c":1,"f":23,"v":0.88},{"c":1,"f":24,"v":0.8},{"c":1,"f":25,"v":0.78}
]
},
"columns":2,
"bounds":"flush",
"spacing":{"row":29,"column":59},
"resolve":{"scale":{"color":"shared"},"legend":{"color":"shared"}},
"concat":[
{
 "width":472,"height":253,
 "title":{"text":"A: Single fault strand model, 5 meters thick","dx":-26,"offset":3},
 "layer":[
  {"data":{"name":"aS"},"mark":{"type":"rect","width":48,"height":11.5,"clip":true},
   "encoding":{
    "x":{"field":"f","type":"quantitative","scale":{"domain":[5,25],"nice":false,"zero":false},"axis":{"values":[5,6,7,8,9,10,11,12,13,14,15,16,17,18,19,20,21,22,23,24,25],"labels":false,"title":null,"tickSize":{"condition":{"test":"datum.value % 2 === 0","value":6},"value":3}}},
    "y":{"field":"v","type":"quantitative","scale":{"domain":[0.5,3.5],"nice":false,"zero":false},"axis":{"values":[0.5,1,1.5,2,2.5,3,3.5],"format":".1f","title":"Shear wave velocity (km/s)","tickSize":5,"labelPadding":1,"titlePadding":10}},
    "color":{"field":"r","type":"quantitative","scale":{"domain":[0,1],"range":["#f7f7f7","#2b2b2b"]},"legend":{"orient":"none","legendX":264,"legendY":594,"direction":"horizontal","gradientLength":407,"gradientThickness":9,"values":[0,0.1,0.2,0.3,0.4,0.5,0.6,0.7,0.8,0.9,1],"format":".1f","labelAlign":"center","encode":{"labels":{"update":{"align":{"value":"center"}},"align":{"value":"center"}}},"title":"Reflection coefficient","titleOrient":"bottom","titleAnchor":"middle","titlePadding":21,"labelFontSize":15,"labelColor":"#333","titleFontSize":14,"titleFontWeight":"normal","titleColor":"#333","gradientStrokeColor":"#555","gradientStrokeWidth":1,"padding":0}}}},
  {"data":{"name":"aSu"},"mark":{"type":"rect","width":48,"height":22,"clip":true},
   "encoding":{
    "x":{"field":"f","type":"quantitative","axis":null},
    "y":{"field":"v","type":"quantitative","axis":null},
    "color":{"field":"r","type":"quantitative","scale":{"domain":[0,1],"range":["#f7f7f7","#2b2b2b"]},"legend":{"orient":"none","legendX":264,"legendY":594,"direction":"horizontal","gradientLength":407,"gradientThickness":9,"values":[0,0.1,0.2,0.3,0.4,0.5,0.6,0.7,0.8,0.9,1],"format":".1f","labelAlign":"center","encode":{"labels":{"update":{"align":{"value":"center"}},"align":{"value":"center"}}},"title":"Reflection coefficient","titleOrient":"bottom","titleAnchor":"middle","titlePadding":21,"labelFontSize":15,"labelColor":"#333","titleFontSize":14,"titleFontWeight":"normal","titleColor":"#333","gradientStrokeColor":"#555","gradientStrokeWidth":1,"padding":0}}}},
  {"data":{"values":[{"v":1},{"v":2},{"v":3}]},"mark":{"type":"rule","color":"#333","strokeWidth":1.6},"encoding":{"y":{"field":"v","type":"quantitative","axis":null}}},
  {"data":{"name":"caS"},"mark":{"type":"line","stroke":"#555","strokeDash":[4,3],"strokeWidth":1.6,"clip":true,"interpolate":"monotone"},
   "encoding":{"x":{"field":"f","type":"quantitative","axis":{"orient":"top","values":[5,6,7,8,9,10,11,12,13,14,15,16,17,18,19,20,21,22,23,24,25],"labels":false,"title":null,"tickSize":{"condition":{"test":"datum.value % 2 === 0","value":5},"value":3}}},"y":{"field":"v","type":"quantitative","axis":{"orient":"right","values":[0.5,1,1.5,2,2.5,3,3.5],"labels":false,"title":null,"tickSize":5}},"detail":{"field":"c"}}},
  {"data":{"values":[{"lab":"SxS"}]},"layer":[
   {"mark":{"type":"rect","fill":"white","stroke":"#222","strokeWidth":1.5},"encoding":{"x":{"datum":5.3,"type":"quantitative","axis":null},"x2":{"datum":7.35},"y":{"datum":0.56,"type":"quantitative","axis":null},"y2":{"datum":0.88}}},
   {"mark":{"type":"text","fontSize":21,"fontWeight":"bold","color":"#111","baseline":"middle"},"encoding":{"x":{"datum":6.32,"type":"quantitative","axis":null},"y":{"datum":0.72,"type":"quantitative","axis":null},"text":{"field":"lab"}}}
  ]}
 ],
 "resolve":{"axis":{"x":"independent","y":"independent"}}
},
{
 "width":472,"height":253,
 "title":{"text":"B: Ten fault layers, 5 meters thick, 45 meters apart","dx":-46,"offset":3},
 "layer":[
  {"data":{"name":"bS"},"mark":{"type":"rect","width":24.5,"height":11.5,"clip":true},
   "encoding":{
    "x":{"field":"f","type":"quantitative","scale":{"domain":[5,25],"nice":false,"zero":false},"axis":{"values":[5,6,7,8,9,10,11,12,13,14,15,16,17,18,19,20,21,22,23,24,25],"labels":false,"title":null,"tickSize":{"condition":{"test":"datum.value % 2 === 0","value":6},"value":3}}},
    "y":{"field":"v","type":"quantitative","scale":{"domain":[0.5,3.5],"nice":false,"zero":false},"axis":{"values":[0.5,1,1.5,2,2.5,3,3.5],"format":".1f","title":null,"tickSize":5,"labelPadding":1}},
    "color":{"field":"r","type":"quantitative","scale":{"domain":[0,1],"range":["#f7f7f7","#2b2b2b"]},"legend":{"orient":"none","legendX":264,"legendY":594,"direction":"horizontal","gradientLength":407,"gradientThickness":9,"values":[0,0.1,0.2,0.3,0.4,0.5,0.6,0.7,0.8,0.9,1],"format":".1f","labelAlign":"center","encode":{"labels":{"update":{"align":{"value":"center"}},"align":{"value":"center"}}},"title":"Reflection coefficient","titleOrient":"bottom","titleAnchor":"middle","titlePadding":21,"labelFontSize":15,"labelColor":"#333","titleFontSize":14,"titleFontWeight":"normal","titleColor":"#333","gradientStrokeColor":"#555","gradientStrokeWidth":1,"padding":0}}}},
  {"data":{"name":"bSu"},"mark":{"type":"rect","width":48,"height":22,"clip":true},
   "encoding":{
    "x":{"field":"f","type":"quantitative","axis":null},
    "y":{"field":"v","type":"quantitative","axis":null},
    "color":{"field":"r","type":"quantitative","scale":{"domain":[0,1],"range":["#f7f7f7","#2b2b2b"]},"legend":{"orient":"none","legendX":264,"legendY":594,"direction":"horizontal","gradientLength":407,"gradientThickness":9,"values":[0,0.1,0.2,0.3,0.4,0.5,0.6,0.7,0.8,0.9,1],"format":".1f","labelAlign":"center","encode":{"labels":{"update":{"align":{"value":"center"}},"align":{"value":"center"}}},"title":"Reflection coefficient","titleOrient":"bottom","titleAnchor":"middle","titlePadding":21,"labelFontSize":15,"labelColor":"#333","titleFontSize":14,"titleFontWeight":"normal","titleColor":"#333","gradientStrokeColor":"#555","gradientStrokeWidth":1,"padding":0}}}},
  {"data":{"values":[{"v":1},{"v":2},{"v":3}]},"mark":{"type":"rule","color":"#333","strokeWidth":1.6},"encoding":{"y":{"field":"v","type":"quantitative","axis":null}}},
  {"data":{"name":"cbS"},"mark":{"type":"line","stroke":"#555","strokeDash":[4,3],"strokeWidth":1.6,"clip":true,"interpolate":"monotone"},
   "encoding":{"x":{"field":"f","type":"quantitative","axis":{"orient":"top","values":[5,6,7,8,9,10,11,12,13,14,15,16,17,18,19,20,21,22,23,24,25],"labels":false,"title":null,"tickSize":{"condition":{"test":"datum.value % 2 === 0","value":5},"value":3}}},"y":{"field":"v","type":"quantitative","axis":{"orient":"right","values":[0.5,1,1.5,2,2.5,3,3.5],"labels":false,"title":null,"tickSize":5}},"detail":{"field":"c"}}},
  {"data":{"values":[{"lab":"SxS"}]},"layer":[
   {"mark":{"type":"rect","fill":"white","stroke":"#222","strokeWidth":1.5},"encoding":{"x":{"datum":5.25,"type":"quantitative","axis":null},"x2":{"datum":7.3},"y":{"datum":0.56,"type":"quantitative","axis":null},"y2":{"datum":0.88}}},
   {"mark":{"type":"text","fontSize":21,"fontWeight":"bold","color":"#111","baseline":"middle"},"encoding":{"x":{"datum":6.27,"type":"quantitative","axis":null},"y":{"datum":0.72,"type":"quantitative","axis":null},"text":{"field":"lab"}}}
  ]}
 ],
 "resolve":{"axis":{"x":"independent","y":"independent"}}
},
{
 "width":472,"height":253,
 "layer":[
  {"data":{"name":"aP"},"mark":{"type":"rect","width":48,"height":22,"clip":true},
   "encoding":{
    "x":{"field":"f","type":"quantitative","scale":{"domain":[5,25],"nice":false,"zero":false},"axis":{"values":[5,6,7,8,9,10,11,12,13,14,15,16,17,18,19,20,21,22,23,24,25],"labelExpr":"datum.value % 2 === 0 ? datum.label : ''","labelOverlap":false,"labelFlush":false,"labelPadding":3,"title":"Frequency (Hz)","titlePadding":2,"tickSize":{"condition":{"test":"datum.value % 2 === 0","value":6},"value":3}}},
    "y":{"field":"v","type":"quantitative","scale":{"domain":[0.5,3.5],"nice":false,"zero":false},"axis":{"values":[0.5,1,1.5,2,2.5,3,3.5],"format":".1f","title":"Shear wave velocity (km/s)","tickSize":5,"labelPadding":1,"titlePadding":10}},
    "color":{"field":"r","type":"quantitative","scale":{"domain":[0,1],"range":["#f7f7f7","#2b2b2b"]},"legend":{"orient":"none","legendX":264,"legendY":594,"direction":"horizontal","gradientLength":407,"gradientThickness":9,"values":[0,0.1,0.2,0.3,0.4,0.5,0.6,0.7,0.8,0.9,1],"format":".1f","labelAlign":"center","encode":{"labels":{"update":{"align":{"value":"center"}},"align":{"value":"center"}}},"title":"Reflection coefficient","titleOrient":"bottom","titleAnchor":"middle","titlePadding":21,"labelFontSize":15,"labelColor":"#333","titleFontSize":14,"titleFontWeight":"normal","titleColor":"#333","gradientStrokeColor":"#555","gradientStrokeWidth":1,"padding":0}}}},
  {"data":{"values":[{"v":1},{"v":2},{"v":3}]},"mark":{"type":"rule","color":"#333","strokeWidth":1.6},"encoding":{"y":{"field":"v","type":"quantitative","axis":null}}},
  {"data":{"name":"caP"},"mark":{"type":"line","stroke":"#555","strokeDash":[4,3],"strokeWidth":1.6,"clip":true,"interpolate":"monotone"},
   "encoding":{"x":{"field":"f","type":"quantitative","axis":{"orient":"top","values":[5,6,7,8,9,10,11,12,13,14,15,16,17,18,19,20,21,22,23,24,25],"labels":false,"title":null,"tickSize":{"condition":{"test":"datum.value % 2 === 0","value":5},"value":3}}},"y":{"field":"v","type":"quantitative","axis":{"orient":"right","values":[0.5,1,1.5,2,2.5,3,3.5],"labels":false,"title":null,"tickSize":5}},"detail":{"field":"c"}}},
  {"data":{"values":[{"lab":"SxP"}]},"layer":[
   {"mark":{"type":"rect","fill":"white","stroke":"#222","strokeWidth":1.5},"encoding":{"x":{"datum":5.3,"type":"quantitative","axis":null},"x2":{"datum":7.35},"y":{"datum":0.55,"type":"quantitative","axis":null},"y2":{"datum":0.87}}},
   {"mark":{"type":"text","fontSize":21,"fontWeight":"bold","color":"#111","baseline":"middle"},"encoding":{"x":{"datum":6.32,"type":"quantitative","axis":null},"y":{"datum":0.71,"type":"quantitative","axis":null},"text":{"field":"lab"}}}
  ]}
 ],
 "resolve":{"axis":{"x":"independent","y":"independent"}}
},
{
 "width":472,"height":253,
 "layer":[
  {"data":{"name":"bP"},"mark":{"type":"rect","width":48,"height":22,"clip":true},
   "encoding":{
    "x":{"field":"f","type":"quantitative","scale":{"domain":[5,25],"nice":false,"zero":false},"axis":{"values":[5,6,7,8,9,10,11,12,13,14,15,16,17,18,19,20,21,22,23,24,25],"labelExpr":"datum.value % 2 === 0 ? datum.label : ''","labelOverlap":false,"labelFlush":false,"labelPadding":3,"title":"Frequency (Hz)","titlePadding":2,"tickSize":{"condition":{"test":"datum.value % 2 === 0","value":6},"value":3}}},
    "y":{"field":"v","type":"quantitative","scale":{"domain":[0.5,3.5],"nice":false,"zero":false},"axis":{"values":[0.5,1,1.5,2,2.5,3,3.5],"format":".1f","title":null,"tickSize":5,"labelPadding":1}},
    "color":{"field":"r","type":"quantitative","scale":{"domain":[0,1],"range":["#f7f7f7","#2b2b2b"]},"legend":{"orient":"none","legendX":264,"legendY":594,"direction":"horizontal","gradientLength":407,"gradientThickness":9,"values":[0,0.1,0.2,0.3,0.4,0.5,0.6,0.7,0.8,0.9,1],"format":".1f","labelAlign":"center","encode":{"labels":{"update":{"align":{"value":"center"}},"align":{"value":"center"}}},"title":"Reflection coefficient","titleOrient":"bottom","titleAnchor":"middle","titlePadding":21,"labelFontSize":15,"labelColor":"#333","titleFontSize":14,"titleFontWeight":"normal","titleColor":"#333","gradientStrokeColor":"#555","gradientStrokeWidth":1,"padding":0}}}},
  {"data":{"values":[{"v":1},{"v":2},{"v":3}]},"mark":{"type":"rule","color":"#333","strokeWidth":1.6},"encoding":{"y":{"field":"v","type":"quantitative","axis":null}}},
  {"data":{"name":"cbP"},"mark":{"type":"line","stroke":"#555","strokeDash":[4,3],"strokeWidth":1.6,"clip":true,"interpolate":"monotone"},
   "encoding":{"x":{"field":"f","type":"quantitative","axis":{"orient":"top","values":[5,6,7,8,9,10,11,12,13,14,15,16,17,18,19,20,21,22,23,24,25],"labels":false,"title":null,"tickSize":{"condition":{"test":"datum.value % 2 === 0","value":5},"value":3}}},"y":{"field":"v","type":"quantitative","axis":{"orient":"right","values":[0.5,1,1.5,2,2.5,3,3.5],"labels":false,"title":null,"tickSize":5}},"detail":{"field":"c"}}},
  {"data":{"values":[{"lab":"SxP"}]},"layer":[
   {"mark":{"type":"rect","fill":"white","stroke":"#222","strokeWidth":1.5},"encoding":{"x":{"datum":5.25,"type":"quantitative","axis":null},"x2":{"datum":7.3},"y":{"datum":0.55,"type":"quantitative","axis":null},"y2":{"datum":0.87}}},
   {"mark":{"type":"text","fontSize":21,"fontWeight":"bold","color":"#111","baseline":"middle"},"encoding":{"x":{"datum":6.27,"type":"quantitative","axis":null},"y":{"datum":0.71,"type":"quantitative","axis":null},"text":{"field":"lab"}}}
  ]}
 ],
 "resolve":{"axis":{"x":"independent","y":"independent"}}
}
]
}
